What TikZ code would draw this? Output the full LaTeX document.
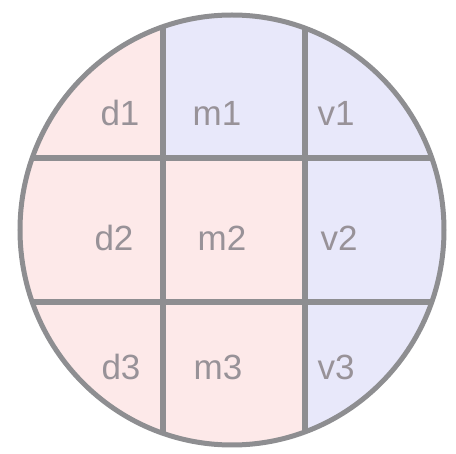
\documentclass[tikz,border=0pt]{standalone}
\usepackage{fontspec}
\setmainfont{Liberation Sans}
\usepackage{tikz}
\usetikzlibrary{positioning}
\definecolor{dpink}{RGB}{253,233,233}
\definecolor{vblue}{RGB}{232,232,250}
\definecolor{gridgray}{RGB}{142,142,145}
\definecolor{labelgray}{RGB}{152,146,152}

\begin{document}
\begin{tikzpicture}[x=1pt,y=-1pt,
    cell/.style={font=\fontsize{35}{40}\selectfont, text=labelgray, inner sep=0pt, anchor=center},
    gridline/.style={gridgray, line width=6pt}]
    \useasboundingbox (0,0) rectangle (456,454);
    % fills, cut to the disc
    \begin{scope}
      \clip (232,230) ellipse (212 and 215);
      \fill[dpink] (0,0) rectangle (163,454);
      \fill[dpink] (163,158) rectangle (305,454);
      \fill[vblue] (163,0) rectangle (305,158);
      \fill[vblue] (305,0) rectangle (456,454);
      % grid
      \draw[gridline] (163,0) -- (163,454);
      \draw[gridline] (305,0) -- (305,454);
      \draw[gridline] (0,158) -- (456,158);
      \draw[gridline] (0,302) -- (456,302);
    \end{scope}
    \draw[gridgray, line width=5pt] (232,230) ellipse (212 and 215);
    % labels
    \node[cell] (d1) at (120,113) {d1};
    \node[cell] (m1) at (217,113) {m1};
    \node[cell] (v1) at (336,113) {v1};
    \node[cell] (d2) at (114,238) {d2};
    \node[cell] (m2) at (222,238) {m2};
    \node[cell] (v2) at (339,238) {v2};
    \node[cell] (d3) at (121,367) {d3};
    \node[cell] (m3) at (218,367) {m3};
    \node[cell] (v3) at (336,367) {v3};
\end{tikzpicture}
\end{document}
